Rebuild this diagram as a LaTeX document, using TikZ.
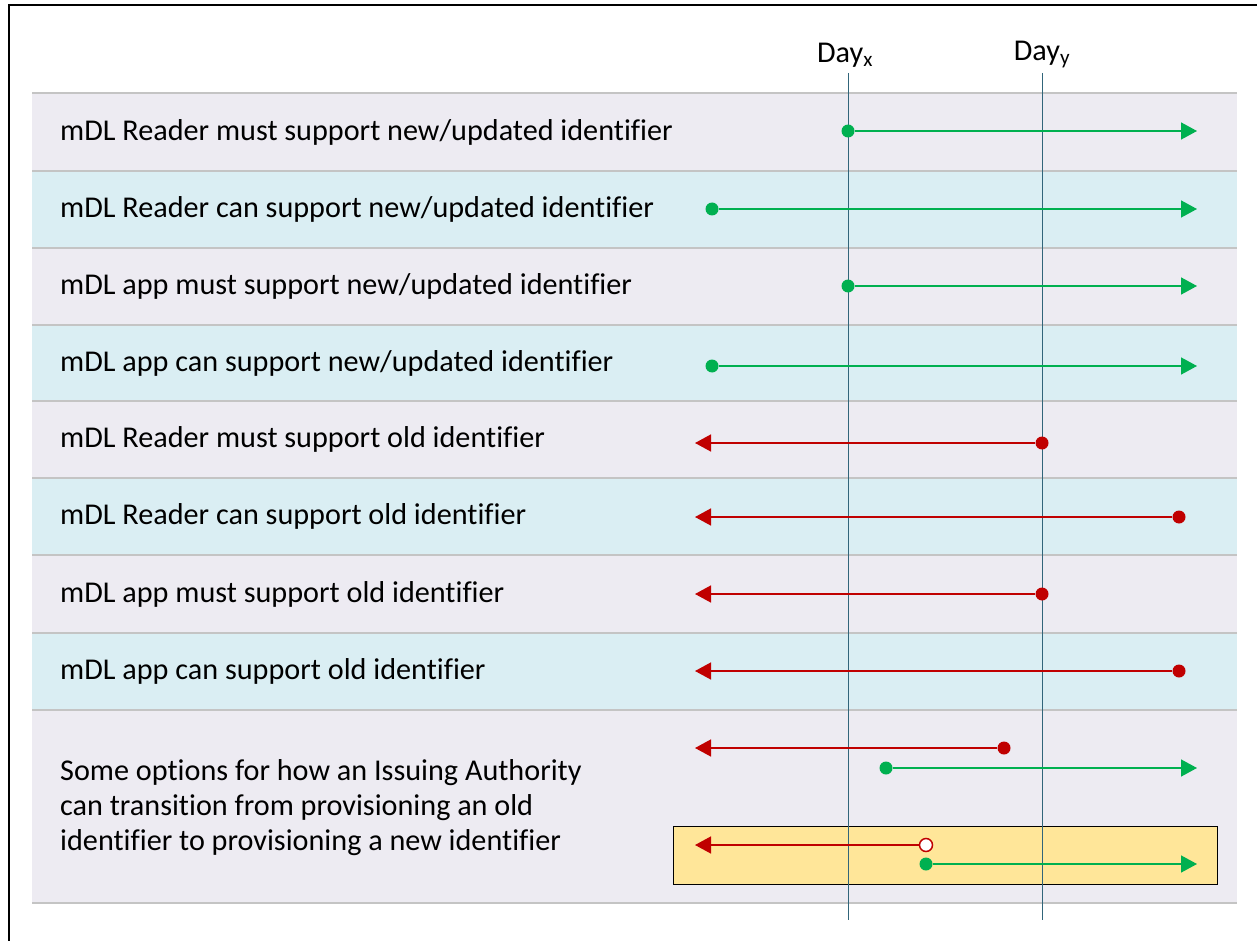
\documentclass[tikz,border=0pt]{standalone}
\usepackage{fontspec}
\setmainfont{Carlito}[Ligatures=NoCommon]
\usetikzlibrary{arrows.meta}
\definecolor{rowgrey}{HTML}{EDEBF2}
\definecolor{rowblue}{HTML}{DAEEF3}
\definecolor{rowrule}{HTML}{C4C4C4}
\definecolor{newgreen}{HTML}{00B050}
\definecolor{oldred}{HTML}{C00000}
\definecolor{dayline}{HTML}{31657A}
\definecolor{optbox}{HTML}{FFE699}
\tikzset{
    new dot/.style={circle, inner sep=0pt, minimum size=13pt, fill=newgreen},
    old dot/.style={circle, inner sep=0pt, minimum size=13pt, fill=oldred},
    open dot/.style={circle, inner sep=0pt, minimum size=13pt, draw=oldred, line width=1.5pt, fill=white},
    new arrow/.style={newgreen, line width=1.5pt, -{Triangle[length=16pt,width=17pt]}},
    old arrow/.style={oldred, line width=1.5pt, -{Triangle[length=16pt,width=17pt]}},
    rowtext/.style={anchor=west, inner sep=0pt, font=\fontsize{30.2}{35}\selectfont},
    daytext/.style={anchor=south, inner sep=0pt, font=\fontsize{30.2}{32}\selectfont},
}
\begin{document}
\begin{tikzpicture}[x=1pt, y=-1pt]
\useasboundingbox (0,0) rectangle (1257,941);
\def\bandL{32}
\def\bandR{1237}
\def\dayX{848}
\def\dayY{1042}
% frame
\draw[line width=2pt] (9,941) -- (9,5) -- (1257,5);
% rows
\foreach \top/\bot/\col/\txt [count=\i] in {
    93/171/rowgrey/{mDL Reader must support new/updated identifier},
    171/248/rowblue/{mDL Reader can support new/updated identifier},
    248/325/rowgrey/{mDL app must support new/updated identifier},
    325/401/rowblue/{mDL app can support new/updated identifier},
    401/478/rowgrey/{mDL Reader must support old identifier},
    478/555/rowblue/{mDL Reader can support old identifier},
    555/633/rowgrey/{mDL app must support old identifier},
    633/710/rowblue/{mDL app can support old identifier}} {
    \fill[\col] (\bandL,\top) rectangle (\bandR,\bot);
    \draw[rowrule, line width=1.5pt] (\bandL,\top) -- (\bandR,\top);
    \node[rowtext] (lbl\i) at (60,{(\top+\bot)/2}) {\txt};
}
\fill[rowgrey] (\bandL,710) rectangle (\bandR,903);
\draw[rowrule, line width=1.5pt] (\bandL,710) -- (\bandR,710);
\draw[rowrule, line width=1.5pt] (\bandL,903) -- (\bandR,903);
\node[rowtext, align=left] (lbl9) at (60,808) {Some options for how an Issuing Authority\\can transition from provisioning an old\\identifier to provisioning a new identifier};
% highlighted option
\draw[optbox, fill=optbox] (673,826) rectangle (1217,884);
\draw[black, line width=1pt] (673,826) rectangle (1217,884);
% day markers
\coordinate (dxtop) at (\dayX,73);
\coordinate (dxbot) at (\dayX,920);
\coordinate (dytop) at (\dayY,73);
\coordinate (dybot) at (\dayY,920);
\draw[dayline, line width=1pt] (dxtop) -- (dxbot);
\draw[dayline, line width=1pt] (dytop) -- (dybot);
\node[daytext] (dxlbl) at (845,68) {Day\textsubscript{x}};
\node[daytext] (dylbl) at (1042,68) {Day\textsubscript{y}};
% support periods
\foreach \n/\y/\xs/\xe/\kind in {
    1/131/\dayX/1197/new, 2/209/712/1197/new, 3/286/\dayX/1197/new, 4/366/712/1197/new,
    5/443/\dayY/695/old, 6/517/1179/695/old, 7/594/\dayY/695/old, 8/671/1179/695/old,
    9/748/1004/695/old, 10/768/886/1197/new, 12/864/926/1197/new} {
    \node[\kind\space dot] (s\n) at (\xs,\y) {};
    \coordinate (e\n) at (\xe,\y);
    \draw[\kind\space arrow] (s\n) -- (e\n);
}
\node[open dot] (s11) at (926,845) {};
\coordinate (e11) at (695,845);
\draw[old arrow] (s11) -- (e11);
\end{tikzpicture}
\end{document}
